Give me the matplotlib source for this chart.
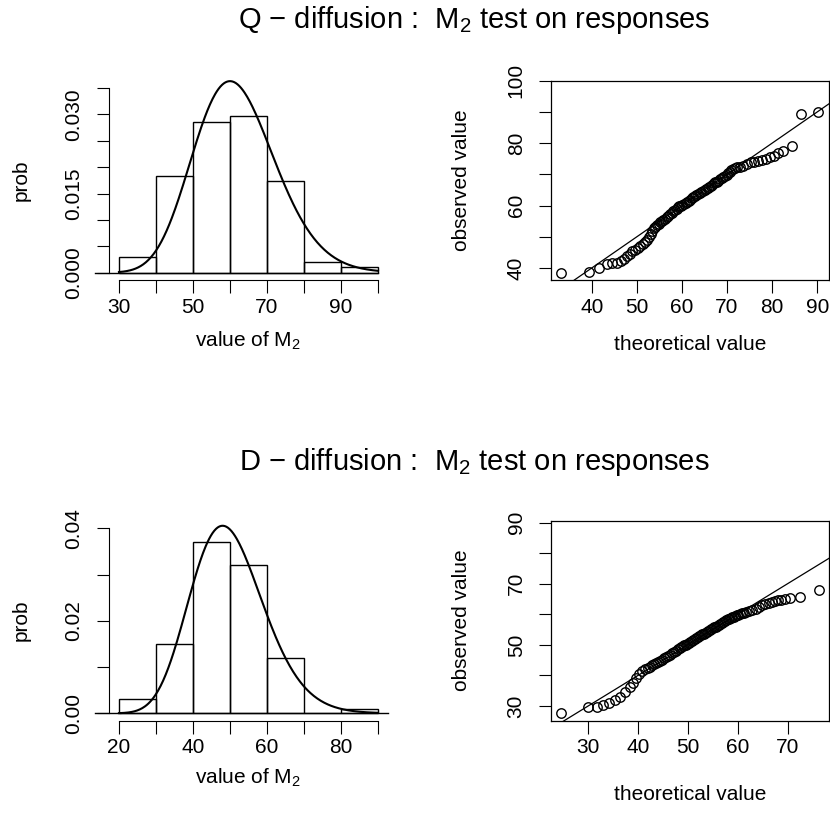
import math
import numpy as np
import matplotlib
matplotlib.use("Agg")
import matplotlib.pyplot as plt

plt.rcParams['font.family'] = ['Liberation Sans', 'DejaVu Sans']
plt.rcParams['mathtext.fontset'] = 'custom'
plt.rcParams['mathtext.rm'] = 'Liberation Sans'
plt.rcParams['mathtext.it'] = 'Liberation Sans:italic'

# histogram densities (bin width 10)
q_edges = [30, 40, 50, 60, 70, 80, 90, 100]
q_dens = [0.003, 0.0184, 0.0286, 0.0297, 0.0173, 0.002, 0.001]
q_df = 62

d_edges = [20, 30, 40, 50, 60, 70, 80, 90]
d_dens = [0.003, 0.015, 0.037, 0.032, 0.012, 0.0, 0.001]
d_df = 50

# QQ plots: sorted theoretical vs sorted observed
q_theo = [33.2, 39.5, 41.7, 43.3, 44.4, 45.5, 46.4, 47.1, 47.8, 48.4,
          49.0, 49.6, 50.2, 50.8, 51.3, 51.8, 52.3, 52.7, 53.1, 53.4,
          53.8, 54.1, 54.5, 54.8, 55.2, 55.6, 55.9, 56.3, 56.7, 57.0,
          57.4, 57.7, 58.1, 58.4, 58.8, 59.1, 59.4, 59.8, 60.1, 60.4,
          60.8, 61.1, 61.5, 61.8, 62.2, 62.5, 62.9, 63.2, 63.6, 63.9,
          64.3, 64.6, 65.0, 65.3, 65.7, 66.0, 66.4, 66.7, 67.1, 67.4,
          67.8, 68.1, 68.5, 68.8, 69.2, 69.5, 69.9, 70.2, 70.6, 70.9,
          71.3, 71.7, 72.3, 72.9, 73.6, 74.4, 75.2, 76.0, 76.9, 77.8,
          78.7, 79.6, 80.5, 81.3, 82.4, 84.3, 86.5, 90.2]
q_obs = [38.5, 38.6, 39.9, 41.3, 41.5, 41.7, 42.1, 42.8, 43.8, 44.6,
         45.3, 45.9, 46.5, 47.0, 47.6, 48.3, 49.0, 49.8, 50.9, 52.0,
         52.7, 53.2, 53.7, 54.1, 54.6, 55.0, 55.4, 55.8, 56.3, 56.7,
         57.2, 57.6, 58.1, 58.5, 59.0, 59.4, 59.7, 60.0, 60.3, 60.6,
         60.9, 61.2, 61.6, 61.9, 62.3, 62.6, 63.0, 63.3, 63.7, 64.0,
         64.3, 64.6, 65.0, 65.3, 65.7, 66.0, 66.4, 66.7, 67.1, 67.4,
         67.7, 68.0, 68.4, 68.7, 69.1, 69.5, 69.9, 70.3, 70.8, 71.3,
         71.7, 72.0, 72.3, 72.5, 72.8, 73.3, 73.8, 74.1, 74.3, 74.5,
         74.9, 75.4, 76.0, 76.7, 77.6, 79.2, 89.3, 90.1]

d_theo = [24.6, 30.0, 31.7, 33.0, 34.2, 35.3, 36.3, 37.3, 38.3, 39.0,
          39.6, 40.3, 40.9, 41.5, 42.0, 42.4, 42.8, 43.2, 43.6, 44.0,
          44.4, 44.8, 45.2, 45.6, 46.0, 46.4, 46.8, 47.2, 47.6, 48.0,
          48.4, 48.7, 49.0, 49.3, 49.6, 49.9, 50.2, 50.5, 50.8, 51.1,
          51.4, 51.7, 52.0, 52.3, 52.6, 52.9, 53.2, 53.5, 53.8, 54.1,
          54.4, 54.7, 55.0, 55.3, 55.6, 55.9, 56.2, 56.5, 56.8, 57.1,
          57.4, 57.7, 58.0, 58.3, 58.6, 58.9, 59.2, 59.5, 59.8, 60.1,
          60.5, 60.9, 61.3, 61.7, 62.2, 62.8, 63.6, 64.2, 64.9, 65.5,
          66.2, 66.9, 67.5, 68.1, 68.7, 69.5, 70.5, 72.5, 76.2]
d_obs = [27.6, 29.6, 29.8, 30.3, 31.1, 32.0, 33.0, 34.7, 36.3, 37.6,
         39.1, 40.4, 41.5, 42.0, 42.5, 42.9, 43.3, 43.6, 44.0, 44.4,
         44.8, 45.2, 45.6, 46.0, 46.4, 46.8, 47.3, 47.7, 48.1, 48.5,
         48.9, 49.2, 49.5, 49.8, 50.1, 50.3, 50.6, 50.9, 51.2, 51.5,
         51.8, 52.1, 52.5, 52.8, 53.1, 53.4, 53.7, 54.0, 54.3, 54.6,
         54.9, 55.2, 55.5, 55.8, 56.0, 56.3, 56.6, 56.9, 57.2, 57.5,
         57.8, 58.1, 58.3, 58.6, 58.8, 59.0, 59.2, 59.4, 59.6, 59.8,
         60.0, 60.3, 60.5, 60.8, 61.1, 61.4, 61.8, 62.5, 63.0, 63.3,
         63.8, 64.1, 64.3, 64.6, 64.8, 65.0, 65.4, 65.5, 68.1]


def chisq_pdf(x, k):
    x = np.asarray(x, dtype=float)
    logf = (k / 2 - 1) * np.log(x) - x / 2 - (k / 2) * math.log(2) - math.lgamma(k / 2)
    return np.exp(logf)


W, H = 830, 825
fig = plt.figure(figsize=(W / 100, H / 100), dpi=100)
FS = 15


def px_axes(x0, y0, x1, y1):
    # pixel box (top-left origin) -> axes
    return fig.add_axes([x0 / W, 1 - y1 / H, (x1 - x0) / W, (y1 - y0) / H])


def style_ticks(ax):
    ax.tick_params(direction='out', length=9, width=0.8, labelsize=FS)
    ax.tick_params(axis='x', pad=3.8)
    ax.tick_params(axis='y', pad=9)
    for lab in ax.get_yticklabels():
        lab.set_rotation(90)
        lab.set_va('center')


def hist_panel(y0, y1, edges, dens, df, ylim, yticks, ylabels, xlabels, base_x0, base_x1):
    ax = px_axes(108.6, y0, 388.4, y1)
    ax.bar(edges[:-1], dens, width=10, align='edge', fill=False,
           edgecolor='black', linewidth=1.0)
    xs = np.linspace(edges[0], edges[-1], 300)
    ax.plot(xs, chisq_pdf(xs, df), color='black', linewidth=1.5, clip_on=False)
    ax.plot([base_x0, base_x1], [0, 0], color='black', linewidth=1.0, clip_on=False)
    ax.set_xlim(edges[0] - 0.04 * (edges[-1] - edges[0]), edges[-1] + 0.04 * (edges[-1] - edges[0]))
    ax.set_ylim(-0.04 * ylim, ylim * 1.04)
    for s in ['top', 'right']:
        ax.spines[s].set_visible(False)
    ax.spines['left'].set_bounds(0, yticks[-1])
    ax.spines['bottom'].set_bounds(edges[0], edges[-1])
    ax.spines['left'].set_linewidth(0.8)
    ax.spines['bottom'].set_linewidth(0.8)
    ax.set_xticks(edges)
    ax.set_xticklabels(xlabels)
    ax.set_yticks(yticks)
    ax.set_yticklabels(ylabels)
    style_ticks(ax)
    return ax


def qq_panel(y0, y1, theo, obs, xlim, ylim, xticks, yticks, ylabels):
    ax = px_axes(550.7, y0, 829.0, y1)
    ax.plot(theo, obs, 'o', markerfacecolor='none', markeredgecolor='black',
            markersize=6.8, markeredgewidth=1.0)
    ax.plot([0, 120], [0, 120], color='black', linewidth=0.9)
    ax.set_xlim(*xlim)
    ax.set_ylim(*ylim)
    ax.set_xticks(xticks)
    ax.set_yticks(yticks)
    ax.set_yticklabels(ylabels)
    for s in ax.spines.values():
        s.set_linewidth(0.9)
    style_ticks(ax)
    return ax


# top row
hist_panel(80.7, 280, q_edges, q_dens, q_df, 0.035,
           [0, 0.005, 0.01, 0.015, 0.02, 0.025, 0.03, 0.035],
           ['0.000', '', '', '0.015', '', '', '0.030', ''],
           ['30', '', '50', '', '70', '', '90', ''], 23.5, 100)
qq_panel(80.7, 280, q_theo, q_obs, (30.9, 92.6), (36.15, 100),
         [40, 50, 60, 70, 80, 90], [40, 50, 60, 70, 80, 90, 100],
         ['40', '', '60', '', '80', '', '100'])

# bottom row
hist_panel(521, 720.7, d_edges, d_dens, d_df, 0.04,
           [0, 0.01, 0.02, 0.03, 0.04],
           ['0.00', '', '0.02', '', '0.04'],
           ['20', '', '40', '', '60', '', '80', ''], 13.5, 92.8)
qq_panel(521, 720.7, d_theo, d_obs, (22.5, 78.3), (25.2, 90.5),
         [30, 40, 50, 60, 70], [30, 40, 50, 60, 70, 80, 90],
         ['30', '', '50', '', '70', '', '90'])


def ftext(x, y, s, **kw):
    fig.text(x / W, 1 - y / H, s, ha='center', va='center', **kw)


ftext(474, 20, 'Q \u2212 diffusion :  M$_2$ test on responses', fontsize=21)
ftext(474, 462, 'D \u2212 diffusion :  M$_2$ test on responses', fontsize=21)
for yc, xl_y, tl_y in [(180, 341, 344), (620, 778, 794)]:
    ftext(21, yc, 'prob', fontsize=FS, rotation=90)
    ftext(461, yc, 'observed value', fontsize=FS, rotation=90)
    ftext(248, xl_y, 'value of M$_2$', fontsize=FS)
    ftext(690, tl_y, 'theoretical value', fontsize=FS)

fig.savefig('out.png', dpi=100)
